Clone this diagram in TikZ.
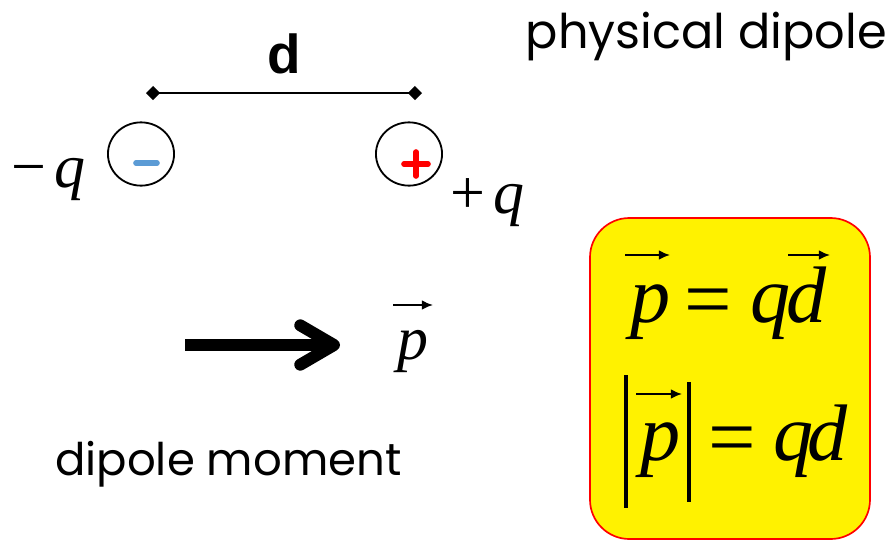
\documentclass[tikz,border=0pt]{standalone}
\usepackage{fontspec}
\setmainfont{Liberation Serif}
\setsansfont{Poppins}
\newfontfamily\arialfont{Liberation Sans}
\usetikzlibrary{arrows.meta,shapes.geometric}
\definecolor{minusblue}{RGB}{91,155,213}

\begin{document}
\begin{tikzpicture}[x=0.025cm,y=-0.025cm,
 caption/.style={font=\sffamily\fontsize{34}{38}\selectfont,inner sep=0pt},
 charge/.style={draw,line width=1.3pt,ellipse,minimum width=47pt,minimum height=45pt,inner sep=0pt},
 sym/.style={font=\fontsize{44}{48}\selectfont,inner sep=0pt,anchor=base},
 big/.style={font=\fontsize{57}{60}\selectfont,inner sep=0pt,anchor=base},
 vecarrow/.style={line width=1.4pt,-{Latex[length=8pt,width=7pt]}},
 sign/.style={line width=4pt,line cap=round}]
\useasboundingbox (0,0) rectangle (896,541);
\node[caption,anchor=base east] (title) at (887,48) {physical dipole};
% separation of the charges
\coordinate (dl) at (146,93);
\coordinate (dr) at (422,93);
\draw[line width=1.4pt,{Diamond[length=10pt,width=10pt]}-{Diamond[length=10pt,width=10pt]}]
 (dl) -- (dr) node[midway,above=13pt,inner sep=0pt,font=\arialfont\bfseries\fontsize{39}{42}\selectfont] (dlab) {d};
\node[charge] (neg) at (141,154) {};
\node[charge] (pos) at (409,154) {};
\draw[sign,minusblue] (136,163) -- (157,163);
\draw[sign,red] (404,164) -- (428,164);
\draw[sign,red] (416,152) -- (416,176);
\node[sym,anchor=base west] (qneg) at (11,187) {−\kern6pt\textit{q}};
\node[sym,anchor=base west] (qpos) at (450,213) {+\kern6pt\textit{q}};
% dipole moment arrow
\coordinate (ptail) at (185,345);
\coordinate (phead) at (340,345);
\draw[line width=8.5pt,-{Straight Barb[round,length=24pt,width=28pt]}] (ptail) -- (phead);
\node[sym] (p0) at (413,359) {\textit{p}};
\coordinate (a0l) at (393,305);
\coordinate (a0r) at (433,305);
\draw[vecarrow] (a0l) -- (a0r);
\node[caption,font=\sffamily\fontsize{32}{36}\selectfont,anchor=base west] (moment) at (55,475) {dipole moment};
% result box
\draw[red,line width=1.2pt,fill=yellow,rounded corners=28pt] (590,218) rectangle (870,539);
\node[big] (p1) at (651,322) {\textit{p}};
\node[big,font=\fontsize{60}{62}\selectfont] (eq1) at (708,327) {=};
\node[big] (q1) at (771,322) {\textit{q}};
\node[big] (d1) at (807,322) {\textit{d}};
\coordinate (a1l) at (625,255);
\coordinate (a1r) at (670,255);
\coordinate (a2l) at (788,255);
\coordinate (a2r) at (830,255);
\draw[vecarrow] (a1l) -- (a1r);
\draw[vecarrow] (a2l) -- (a2r);
\node[big] (p2) at (661,460) {\textit{p}};
\node[big,font=\fontsize{60}{62}\selectfont] (eq2) at (732,465) {=};
\node[big] (q2) at (794,460) {\textit{q}};
\node[big] (d2) at (828,460) {\textit{d}};
\coordinate (a3l) at (636,394);
\coordinate (a3r) at (682,394);
\draw[vecarrow] (a3l) -- (a3r);
\coordinate (b1t) at (626,375);
\coordinate (b1b) at (626,508);
\coordinate (b2t) at (689,382);
\coordinate (b2b) at (689,502);
\draw[line width=2.2pt] (b1t) -- (b1b);
\draw[line width=2.2pt] (b2t) -- (b2b);
\end{tikzpicture}
\end{document}
